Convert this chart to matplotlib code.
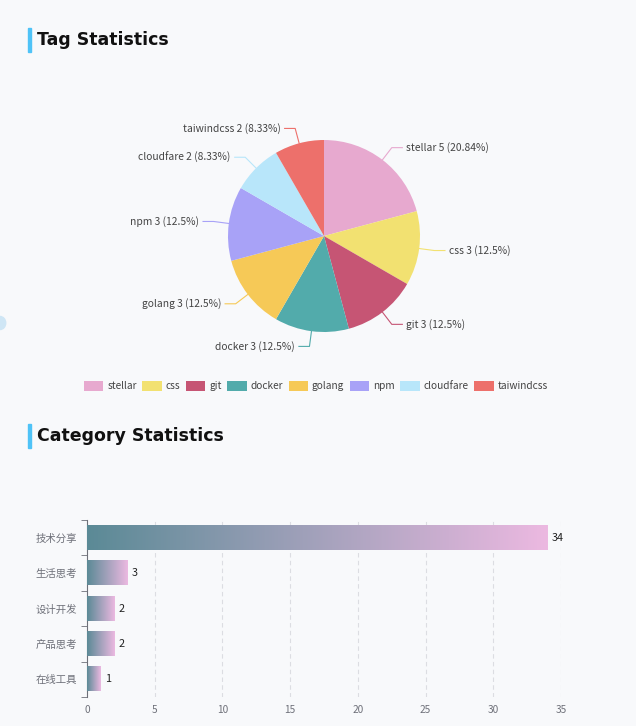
import numpy as np
import matplotlib.pyplot as plt
from matplotlib.patches import Patch, Rectangle, Circle
from matplotlib.colors import LinearSegmentedColormap

plt.rcParams['font.family'] = ['Noto Sans CJK SC', 'DejaVu Sans']

# tag data
tags = ['stellar', 'css', 'git', 'docker', 'golang', 'npm', 'cloudfare', 'taiwindcss']
tag_counts = [5, 3, 3, 3, 3, 3, 2, 2]
tag_pcts = ['20.84%', '12.5%', '12.5%', '12.5%', '12.5%', '12.5%', '8.33%', '8.33%']
tag_colors = ['#e7a9cf', '#f2e171', '#c65574', '#52abab', '#f6c957', '#a8a2f7', '#b8e6fa', '#ed706b']

# category data
categories = ['技术分享', '生活思考', '设计开发', '产品思考', '在线工具']
cat_counts = [34, 3, 2, 2, 1]

W, H = 636, 726
bg = '#f8f9fb'
fig = plt.figure(figsize=(W / 100, H / 100), dpi=100, facecolor=bg)


def fx(px):
    return px / W


def fy(py):
    return 1 - py / H


# section titles
for ty, txt in [(40, 'Tag Statistics'), (436, 'Category Statistics')]:
    fig.patches.append(Rectangle((fx(28), fy(ty + 12)), fx(3), 24 / H,
                                 transform=fig.transFigure, color='#4fc3f7'))
    fig.text(fx(37), fy(ty), txt, fontsize=12.5, fontweight='bold',
             family='DejaVu Sans', color='#111111', va='center')

# little decoration on left edge
fig.patches.append(Circle((0, fy(323)), 0.009, transform=fig.transFigure,
                          color='#cfe6f5'))

# ---- pie ----
cx, cy, R = 324, 236, 96
top, bot = 100, 372
axp = fig.add_axes([0, fy(bot), 1, (bot - top) / H])
wedges, _ = axp.pie(tag_counts, colors=tag_colors, startangle=90,
                    counterclock=False, radius=1)
axp.set_aspect('auto')
axp.set_xlim(-cx / R, (W - cx) / R)
axp.set_ylim(-(bot - cy) / R, (cy - top) / R)
axp.axis('off')

for w, name, cnt, pct, col in zip(wedges, tags, tag_counts, tag_pcts, tag_colors):
    ang = np.deg2rad((w.theta1 + w.theta2) / 2)
    x0, y0 = np.cos(ang), np.sin(ang)
    x1, y1 = 1.16 * x0, 1.16 * y0
    side = 1 if x0 >= 0 else -1
    x2 = x1 + side * 0.11
    axp.plot([x0, x1, x2], [y0, y1, y1], color=col, lw=0.8)
    axp.text(x2 + side * 0.04, y1, f'{name} {cnt} ({pct})', fontsize=7.4,
             color='#444444', va='center', ha='left' if side > 0 else 'right')

# legend
handles = [Patch(facecolor=c, edgecolor='none') for c in tag_colors]
fig.legend(handles, tags, loc='center', bbox_to_anchor=(fx(316), fy(386)),
           ncol=8, frameon=False, fontsize=7.3, handlelength=1.9,
           handleheight=1.1, columnspacing=0.55, handletextpad=0.4,
           labelcolor='#444444')

# ---- bar ----
axb = fig.add_axes([fx(87), fy(697), (561 - 87) / W, (697 - 520) / H])
axb.set_facecolor(bg)
ypos = np.arange(len(categories))
cmap = LinearSegmentedColormap.from_list('g', ['#5b8a96', '#ecb9e1'])
grad = np.linspace(0, 1, 256).reshape(1, -1)
bh = 0.68
for y, v in zip(ypos, cat_counts):
    axb.imshow(grad, cmap=cmap, aspect='auto', extent=(0, v, y + bh / 2, y - bh / 2),
               zorder=3)
    axb.text(v + 0.3, y, str(v), va='center', ha='left', fontsize=7.8,
             color='#222222', zorder=4)

axb.set_xlim(0, 35)
axb.set_ylim(len(categories) - 0.5, -0.5)
axb.set_xticks(np.arange(0, 36, 5))
axb.set_yticks(ypos)
axb.set_yticklabels(categories)
axb.set_yticks(np.arange(-0.5, len(categories)), minor=True)
axb.tick_params(axis='y', which='major', length=0, pad=7, labelsize=7.5,
                labelcolor='#6e7079')
axb.tick_params(axis='y', which='minor', length=4, color='#6e7079')
axb.tick_params(axis='x', length=0, pad=6, labelsize=7.3, labelcolor='#6e7079')
for x in range(5, 36, 5):
    axb.axvline(x, color='#dcdde2', lw=0.8, ls=(0, (4, 3)), zorder=1)
for s in ['top', 'right', 'bottom']:
    axb.spines[s].set_visible(False)
axb.spines['left'].set_color('#6e7079')

fig.savefig('out.png', dpi=100, facecolor=bg)
